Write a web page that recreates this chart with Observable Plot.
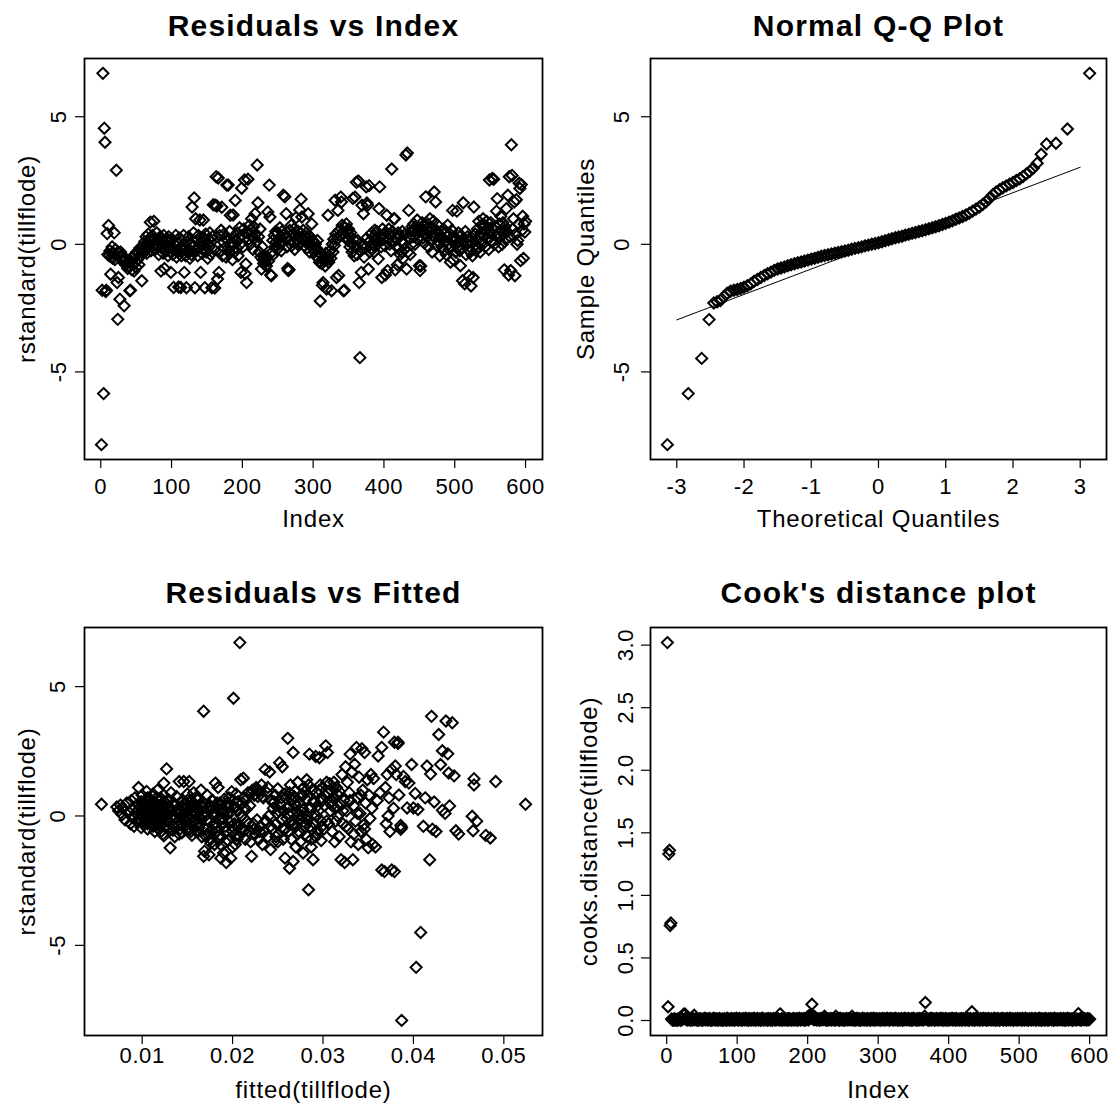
<!DOCTYPE html>
<html><head><meta charset="utf-8">
<script src="https://cdn.jsdelivr.net/npm/d3@7"></script>
<script src="https://cdn.jsdelivr.net/npm/@observablehq/plot@0.6"></script>
<style>
body{margin:0;background:#fff;}
#root{position:relative;width:1109px;height:1104px;background:#fff;overflow:hidden;}
.panel{position:absolute;}
</style></head><body><div id="root"></div>
<script>
// ---------- Panel 1: Residuals vs Index (index = position 1..600) ----------
const resid = [
-7.85,-1.8,6.7,-5.85,4.55,4.0,-1.85,-1.8,0.42,-0.4,0.74,-0.45,-0.25,-1.17,-0.5,-0.1,-0.55,-0.35,0.45,-0.6,
-0.2,2.9,-1.5,-2.94,-1.3,-0.35,-2.15,-0.3,-0.5,-0.6,-0.45,-0.7,-2.41,-0.55,-0.8,-0.6,-0.75,-0.95,-0.7,-0.9,
-1.82,-1.8,-0.65,-1.0,-0.5,-0.8,-1.05,-0.4,-0.7,-0.9,-0.3,-0.6,-0.35,-0.8,-0.15,-0.45,-0.25,-1.43,-0.1,-0.35,
-0.3,0.1,-0.15,0.3,-0.35,0.05,0.4,-0.1,0.2,0.87,-0.25,0.15,0.35,-0.05,0.9,0.2,-0.2,0.05,0.45,-0.1,
0.2,-0.4,0.05,0.3,-1.05,-0.15,0.15,-0.35,0.35,-0.95,-0.05,0.2,-0.25,0.1,-0.45,0.3,-0.1,0.15,-1.1,-0.3,
0.2,-0.4,-1.69,0.0,-0.2,0.35,-0.5,0.05,-0.3,-1.67,0.25,-0.15,-1.69,-0.45,0.15,-0.25,0.35,-1.1,-0.05,-0.45,
-1.7,0.1,-0.3,0.3,-0.2,-0.55,0.05,-0.4,1.46,-0.1,0.45,1.82,-1.7,1.0,-0.25,0.15,-0.45,0.35,-0.1,0.95,
-1.1,0.1,-0.35,0.25,0.95,-0.15,-1.7,0.4,-0.3,0.0,-0.55,0.2,-0.1,0.45,-0.4,0.1,-1.7,0.3,1.55,-0.2,
-1.71,1.53,2.65,1.5,-1.36,2.6,-1.1,0.35,-0.25,0.55,1.45,-0.45,0.1,0.4,-0.15,0.25,-0.5,2.32,0.15,2.32,
-0.3,0.5,1.14,-0.1,0.1,-0.6,1.15,0.3,-0.3,1.72,0.15,-0.15,0.45,-0.45,0.25,0.65,0.0,-1.1,2.2,0.35,
-0.1,0.6,2.52,-1.15,-0.77,-1.5,0.45,2.55,0.2,0.75,0.0,0.55,1.0,0.3,-0.2,0.7,0.25,1.2,0.4,0.1,
3.11,1.63,0.3,-0.3,0.6,-0.5,-0.97,-0.1,-0.6,-0.75,-0.45,-0.7,-0.6,-0.85,-0.5,1.27,-0.65,2.32,1.07,-1.2,
-1.23,-0.3,0.15,-0.4,0.35,-0.1,0.5,0.1,-0.2,0.45,0.2,0.0,0.65,0.3,-0.25,0.5,0.1,1.92,0.4,1.86,
0.25,1.2,-0.1,-0.95,-1.03,-1.0,0.55,0.15,0.75,-0.05,0.4,0.1,0.6,-0.2,0.35,1.05,0.2,0.0,0.5,0.3,
1.35,0.45,1.77,1.07,0.25,0.55,-0.05,0.35,0.1,0.45,-0.15,0.25,1.2,0.1,-0.3,0.3,-0.05,0.8,0.15,-0.15,
0.1,-0.3,0.0,-0.45,-0.15,0.15,-0.55,-0.3,-0.7,-2.22,-0.4,-0.75,-1.6,-1.5,-0.55,-0.65,-0.85,-0.35,-1.75,-0.6,
1.14,-0.7,-0.45,-0.25,-0.55,-1.82,0.0,-0.3,0.2,-0.05,1.73,0.4,-1.3,0.2,1.33,-1.22,0.55,0.35,1.85,1.66,
0.75,0.45,-1.82,-1.8,0.65,0.3,0.8,0.5,0.15,0.6,0.35,-0.1,0.45,0.05,-0.3,1.8,0.2,-0.45,1.85,-0.1,
2.43,-0.4,0.15,2.48,-1.5,-4.44,-0.25,-1.1,1.53,0.0,1.2,-0.5,-0.15,0.2,2.25,1.62,1.53,-0.97,2.3,-0.3,
0.15,-0.15,0.45,0.0,0.3,-0.3,0.55,0.2,-0.05,0.5,0.1,-0.57,1.4,2.25,0.35,-0.1,-1.3,0.6,0.2,0.4,
-0.05,-1.2,0.45,1.14,-1.03,0.2,0.6,0.0,0.4,-0.25,2.95,0.5,0.15,1.0,1.0,-1.0,0.25,-0.1,-0.8,0.45,
-0.15,0.3,-0.4,0.1,-0.3,0.5,-0.55,0.05,-0.2,0.4,3.5,-0.97,3.58,-0.3,1.33,0.25,-0.4,0.5,0.0,0.7,
0.3,0.8,0.55,0.0,0.7,0.4,0.95,0.2,0.65,-0.84,-1.03,-0.85,0.5,0.85,0.25,0.7,0.05,0.45,1.86,0.6,
0.3,0.8,-0.1,0.5,1.0,0.15,0.65,-0.3,0.35,0.9,2.05,0.25,1.66,0.55,-0.05,0.75,0.1,0.4,-0.45,0.3,
0.5,-0.1,0.25,0.6,-0.25,0.1,0.45,-0.4,0.3,0.75,0.0,-0.2,0.4,-0.7,0.2,0.55,1.33,-0.6,0.1,0.3,
-0.3,0.2,1.3,-0.1,0.45,0.1,-0.25,-0.84,0.35,-0.15,-1.43,1.63,0.15,-1.55,0.5,-0.4,0.05,0.3,-0.2,-1.23,
0.1,-0.3,-1.63,0.25,-0.45,-1.3,1.46,-0.05,0.4,-0.25,0.15,0.6,-0.1,0.9,0.3,-0.3,0.45,0.75,0.1,1.0,
0.35,0.75,-0.1,0.55,0.9,0.25,0.65,-0.2,2.52,0.45,0.85,0.15,2.58,0.6,2.55,0.0,0.7,0.35,1.3,1.79,
0.45,-0.1,0.8,0.3,1.1,0.55,0.0,0.85,0.4,-1.0,0.7,0.2,1.4,0.5,1.92,-1.2,2.65,0.3,-1.03,3.9,
2.7,0.6,1.0,1.66,-1.23,0.4,1.75,0.0,0.15,0.8,2.39,2.19,-0.64,2.34,0.55,1.1,-0.55,0.8,0.48,0.9
];

// ---------- Panel 2: Normal Q-Q ----------
const qqTheo = [-3.14,-2.83,-2.63,-2.52,
-2.45,-2.40,-2.35,-2.30,-2.25,-2.20,-2.15,-2.10,-2.05,-2.00,
-1.95,-1.90,-1.85,-1.80,-1.75,-1.70,-1.65,-1.60,-1.55,-1.50,
-1.45,-1.40,-1.35,-1.30,-1.25,-1.20,-1.15,-1.10,-1.05,-1.00,
-0.95,-0.90,-0.85,-0.80,-0.75,-0.70,-0.65,-0.60,-0.55,-0.50,
-0.45,-0.40,-0.35,-0.30,-0.25,-0.20,-0.15,-0.10,-0.05,0.00,
0.05,0.10,0.15,0.20,0.25,0.30,0.35,0.40,0.45,0.50,
0.55,0.60,0.65,0.70,0.75,0.80,0.85,0.90,0.95,1.00,
1.05,1.10,1.15,1.20,1.25,1.30,1.35,1.40,1.45,1.50,
1.55,1.60,1.65,1.70,1.75,1.80,1.85,1.90,1.95,2.00,
2.05,2.10,2.15,2.20,2.25,2.30,2.36,2.42,2.50,2.64,2.81,3.14];
const qqSample = [-7.85,-5.85,-4.47,-2.95,
-2.30,-2.25,-2.20,-2.05,-1.92,-1.84,-1.80,-1.77,-1.73,-1.68,
-1.62,-1.55,-1.45,-1.38,-1.30,-1.22,-1.15,-1.09,-1.02,-0.97,
-0.93,-0.89,-0.84,-0.80,-0.76,-0.72,-0.69,-0.65,-0.62,-0.58,
-0.55,-0.51,-0.47,-0.44,-0.41,-0.38,-0.35,-0.32,-0.29,-0.26,
-0.23,-0.19,-0.16,-0.13,-0.10,-0.06,-0.03,0.00,0.03,0.06,
0.10,0.14,0.18,0.22,0.26,0.29,0.32,0.36,0.39,0.43,
0.46,0.50,0.53,0.57,0.61,0.65,0.69,0.73,0.78,0.82,
0.87,0.92,0.98,1.03,1.09,1.15,1.22,1.30,1.38,1.46,
1.56,1.67,1.80,1.94,2.05,2.14,2.22,2.29,2.36,2.42,
2.50,2.57,2.66,2.76,2.86,2.98,3.18,3.53,3.93,3.96,4.52,6.70];
const qqLineTheo = [-3.0, 3.0];
const qqLineSample = [-2.96, 3.02];

// ---------- Panel 3: Residuals vs Fitted ----------
const fitted3 = [
0.0055,0.0072,0.0074,0.0076,0.0078,0.0079,0.0081,0.0083,0.0085,0.0087,
0.0088,0.0089,0.0090,0.0091,0.0092,0.0093,0.0094,0.0095,0.0096,0.0097,
0.0098,0.0099,0.0100,0.0101,0.0102,0.0103,0.0104,0.0105,0.0106,0.0107,
0.0108,0.0109,0.0110,0.0111,0.0112,0.0113,0.0114,0.0115,0.0116,0.0117,
0.0118,0.0119,0.0120,0.0121,0.0122,0.0123,0.0124,0.0125,0.0126,0.0127,
0.0128,0.0129,0.0130,0.0131,0.0132,0.0133,0.0134,0.0135,0.0136,0.0137,
0.0101,0.0104,0.0107,0.0110,0.0113,0.0116,0.0119,0.0122,0.0125,0.0128,
0.0100,0.0103,0.0106,0.0109,0.0112,0.0115,0.0118,0.0121,0.0124,0.0127,
0.0138,0.0139,0.0140,0.0141,0.0142,0.0143,0.0144,0.0145,0.0146,0.0147,
0.0148,0.0149,0.0150,0.0151,0.0152,0.0153,0.0154,0.0155,0.0156,0.0157,
0.0158,0.0159,0.0160,0.0161,0.0162,0.0163,0.0164,0.0165,0.0166,0.0167,
0.0140,0.0143,0.0146,0.0149,0.0152,0.0155,0.0158,0.0161,0.0164,0.0167,
0.0168,0.0168,0.0169,0.0170,0.0171,0.0172,0.0173,0.0174,0.0175,0.0176,
0.0177,0.0178,0.0179,0.0180,0.0181,0.0182,0.0183,0.0184,0.0185,0.0186,
0.0187,0.0188,0.0189,0.0190,0.0191,0.0192,0.0193,0.0194,0.0195,0.0196,
0.0197,0.0198,0.0199,0.0200,0.0201,0.0202,0.0203,0.0204,0.0205,0.0206,
0.0207,0.0208,0.0209,0.0210,0.0211,0.0212,0.0213,0.0214,0.0215,0.0216,
0.0170,0.0174,0.0178,0.0182,0.0186,0.0190,0.0194,0.0198,0.0202,0.0206,
0.0217,0.0218,0.0219,0.0220,0.0221,0.0222,0.0223,0.0224,0.0225,0.0226,
0.0227,0.0228,0.0229,0.0230,0.0231,0.0232,0.0233,0.0234,0.0235,0.0236,
0.0237,0.0238,0.0239,0.0240,0.0241,0.0242,0.0243,0.0244,0.0245,0.0246,
0.0247,0.0248,0.0249,0.0250,0.0251,0.0252,0.0253,0.0254,0.0255,0.0256,
0.0257,0.0258,0.0259,0.0260,0.0261,0.0262,0.0263,0.0264,0.0265,0.0266,
0.0267,0.0267,0.0268,0.0269,0.0270,0.0271,0.0272,0.0273,0.0274,0.0275,
0.0276,0.0277,0.0278,0.0279,0.0280,0.0281,0.0282,0.0283,0.0284,0.0285,
0.0286,0.0287,0.0288,0.0289,0.0290,0.0291,0.0292,0.0293,0.0294,0.0295,
0.0296,0.0297,0.0298,0.0299,0.0300,0.0301,0.0302,0.0303,0.0304,0.0305,
0.0262,0.0266,0.0270,0.0274,0.0278,0.0282,0.0286,0.0290,0.0294,0.0298,
0.0306,0.0307,0.0308,0.0309,0.0310,0.0311,0.0312,0.0313,0.0314,0.0315,
0.0316,0.0317,0.0318,0.0319,0.0320,0.0321,0.0322,0.0323,0.0324,0.0325,
0.0326,0.0327,0.0328,0.0329,0.0330,0.0331,0.0332,0.0333,0.0334,0.0335,
0.0336,0.0337,0.0338,0.0339,0.0340,0.0341,0.0342,0.0343,0.0344,0.0345,
0.0346,0.0347,0.0348,0.0349,0.0350,0.0351,0.0352,0.0353,0.0354,0.0355,
0.0310,0.0314,0.0318,0.0322,0.0326,0.0330,0.0334,0.0338,0.0342,0.0346,
0.0356,0.0358,0.0360,0.0361,0.0363,0.0365,0.0365,0.0367,0.0368,0.0369,
0.0370,0.0371,0.0372,0.0373,0.0374,0.0376,0.0376,0.0378,0.0379,0.0379,
0.0380,0.0381,0.0383,0.0383,0.0384,0.0386,0.0386,0.0387,0.0387,0.0389,
0.0391,0.0393,0.0395,0.0398,0.0400,0.0402,0.0403,0.0405,0.0408,0.0411,
0.0413,0.0415,0.0418,0.0419,0.0420,0.0421,0.0423,0.0425,0.0428,0.0430,
0.0432,0.0432,0.0435,0.0436,0.0438,0.0439,0.0440,0.0443,0.0445,0.0447,
0.0450,0.0465,0.0466,0.0467,0.0467,0.0470,0.0480,0.0485,0.0491,0.0524,
0.0096,0.0099,0.0102,0.0105,0.0108,0.0111,0.0114,0.0117,0.0120,0.0123,
0.0126,0.0129,0.0132,0.0135,0.0097,0.0100,0.0103,0.0106,0.0109,0.0112,
0.0115,0.0118,0.0121,0.0124,0.0127,0.0130,0.0133,0.0136,0.0102,0.0108,
0.0114,0.0120,0.0126,0.0132,0.0105,0.0111,0.0117,0.0123,0.0129,0.0135,
0.0139,0.0142,0.0145,0.0148,0.0151,0.0154,0.0157,0.0160,0.0163,0.0166,
0.0169,0.0172,0.0175,0.0178,0.0181,0.0184,0.0187,0.0190,0.0193,0.0196,
0.0199,0.0202,0.0205,0.0208,0.0211,0.0141,0.0147,0.0153,0.0159,0.0165,
0.0171,0.0177,0.0183,0.0189,0.0195,0.0201,0.0207,0.0213,0.0144,0.0156,
0.0168,0.0180,0.0192,0.0204,0.0176,0.0188,0.0200,0.0212,0.0150,0.0162,
0.0214,0.0218,0.0221,0.0224,0.0227,0.0230,0.0233,0.0236,0.0239,0.0242,
0.0245,0.0248,0.0251,0.0254,0.0257,0.0260,0.0263,0.0266,0.0269,0.0272,
0.0275,0.0278,0.0281,0.0284,0.0287,0.0290,0.0293,0.0296,0.0299,0.0302,
0.0305,0.0308,0.0311,0.0250,0.0256,0.0262,0.0268,0.0274,0.0280,0.0286,
0.0292,0.0298,0.0304,0.0310,0.0246,0.0258,0.0270,0.0282,0.0294,0.0306
];
const resid3 = [
0.45,0.35,0.2,0.42,0.05,0.3,-0.15,0.5,0.15,-0.3,
0.6,-0.05,0.25,-0.4,0.7,0.1,-0.2,0.45,1.1,-0.1,
0.35,-0.45,0.8,0.0,0.55,-0.25,0.2,0.95,-0.5,0.4,
-0.1,0.65,0.1,-0.35,0.85,0.3,-0.6,0.5,0.05,1.0,
-0.3,0.25,0.7,-0.15,0.45,-0.7,1.27,0.15,-0.45,1.82,
0.6,-0.2,0.35,-1.23,0.9,0.0,-0.55,0.5,-0.8,0.2,
0.15,0.6,0.3,0.45,-0.05,0.7,0.05,0.3,0.55,0.1,
-0.2,0.1,-0.3,0.0,-0.4,0.25,-0.5,0.0,-0.77,-0.35,
0.75,-0.4,0.1,1.33,-0.25,0.55,-0.65,0.3,1.33,-0.1,
0.45,-0.5,0.85,0.0,1.33,-0.3,0.6,-0.75,0.2,0.9,
-0.2,0.4,-0.6,0.1,0.7,-0.35,0.25,1.0,-0.8,0.5,
0.2,0.35,0.05,0.3,-0.15,0.45,0.15,-0.3,-0.1,0.3,
4.05,-1.56,-1.36,0.15,-0.5,0.8,-0.2,-1.5,0.4,-0.9,
0.6,-0.35,0.0,-1.1,1.27,0.3,-0.6,1.1,-0.15,0.5,
-1.63,-0.8,0.2,-1.43,0.65,-0.4,-1.8,0.1,-0.95,0.45,
-0.25,-1.63,0.94,-0.6,4.55,0.3,-1.1,0.85,-0.35,0.55,
-0.75,6.7,1.4,0.0,-0.5,1.46,0.7,-0.9,0.25,-0.2,
0.0,0.35,0.1,-0.45,0.25,-0.1,0.5,0.15,-0.3,0.2,
0.9,-0.6,0.4,-1.0,-1.56,1.0,-0.3,0.8,-0.7,1.1,
-0.15,0.75,-0.9,0.95,-0.4,1.2,-1.1,0.7,-0.6,1.8,
-0.2,0.9,-0.8,0.0,1.7,-1.3,0.6,-0.5,0.3,-1.0,
0.8,-0.3,0.1,1.05,-0.7,2.06,0.45,-0.15,1.9,0.2,
-0.55,-1.63,0.7,-0.1,3.0,0.35,-2.02,1.2,-0.9,0.6,
2.45,-1.76,-0.3,0.95,-1.2,0.15,1.3,-0.6,0.5,-1.0,
0.8,0.0,-1.43,1.1,-0.4,0.65,1.4,-0.8,-2.85,2.39,
0.3,-1.2,1.0,-1.69,0.5,-0.3,2.3,0.9,-0.7,0.2,
2.25,1.2,-0.95,0.6,1.1,-0.5,0.8,2.71,1.3,2.45,
0.1,-0.35,0.4,0.05,0.25,-0.15,-0.4,0.1,0.4,-0.2,
0.9,1.25,0.5,1.0,-0.6,0.7,1.3,-1.0,0.3,1.1,
0.0,0.8,-0.8,0.45,-1.69,1.6,-0.3,0.6,-1.8,1.9,
0.2,1.3,-0.5,0.9,2.39,-1.0,1.7,-1.69,0.4,2.0,
-0.2,2.65,0.7,-1.1,1.5,0.1,-0.6,2.6,1.0,-0.35,
2.45,0.5,-0.9,1.4,-1.23,0.8,-0.1,1.6,0.3,-1.1,
0.4,-0.2,0.95,0.2,-0.4,0.6,-0.7,0.1,0.8,-0.5,
1.45,-1.2,0.6,2.32,0.9,2.65,-2.09,3.24,-2.15,1.1,
-0.3,1.6,0.0,0.7,-0.6,-2.09,1.8,0.3,2.85,-2.15,
1.93,1.6,2.85,2.8,0.81,-0.37,-0.51,-7.9,-0.45,1.53,
1.33,0.31,1.27,1.99,0.31,0.87,-5.85,0.25,-4.5,-0.4,
0.7,1.93,-1.69,1.62,3.85,-0.51,0.54,-0.6,3.15,1.99,
2.52,0.22,0.1,3.67,2.4,1.66,0.39,3.6,1.55,-0.57,
-0.7,-0.01,-0.57,1.44,1.2,-0.2,-0.75,-0.85,1.33,0.45,
0.25,0.55,-0.35,0.15,0.45,-0.2,0.3,-0.45,0.6,-0.1,
0.4,-0.5,0.2,0.05,0.1,0.5,-0.15,0.7,0.2,0.55,
-0.25,0.4,-0.6,0.8,-0.2,0.6,-0.35,0.4,0.35,-0.2,
0.15,0.35,0.0,0.15,0.0,0.2,-0.05,0.1,0.25,-0.4,
0.1,-0.5,0.6,-0.2,0.35,-0.6,0.5,0.3,-0.45,0.05,
0.45,-0.7,0.2,0.6,-0.3,-0.8,0.4,0.1,-0.6,0.7,
-0.4,0.35,-0.9,0.1,0.5,-0.7,0.25,-0.5,0.7,-0.1,
-0.8,-0.55,0.5,-0.25,0.3,0.6,-0.4,0.3,-0.3,0.0,
0.35,0.15,-1.0,-0.75,-1.05,-1.15,-1.2,-0.6,0.6,-0.6,
0.6,-0.3,0.9,-0.5,1.0,-0.6,0.75,-0.2,1.1,-0.4,
0.5,-0.8,0.2,0.7,-0.5,0.3,0.9,-0.2,0.5,-0.7,
0.2,0.8,-0.3,1.2,-0.9,0.6,0.0,1.0,-0.4,0.4,
0.9,0.2,1.1,-1.0,-0.9,-0.6,0.75,-0.1,0.95,0.3,
-0.8,0.7,-0.2,0.55,0.55,0.85,-0.4,0.0,-0.55,-0.3
];

// ---------- Panel 4: Cook's distance (index = position 1..600) ----------
const cooks = [
3.02,.11,1.33,1.36,.76,.78,.012,.004,.008,.002,.015,.006,.003,.009,.001,.011,.005,.018,.007,.002,
.006,.014,.009,.05,.045,.052,.02,.005,.011,.003,.016,.007,.013,.002,.009,.019,.004,.012,.042,.008,
.01,.003,.017,.006,.001,.012,.008,.015,.004,.01,.002,.013,.007,.018,.005,.009,.014,.003,.011,.006,
.016,.004,.009,.001,.012,.007,.019,.005,.01,.003,.014,.008,.002,.011,.017,.006,.009,.004,.013,.001,
.008,.015,.005,.011,.002,.018,.007,.01,.004,.013,.006,.016,.003,.009,.012,.001,.014,.007,.019,.005,
.011,.003,.017,.008,.006,.013,.002,.01,.015,.005,.009,.018,.004,.012,.007,.001,.016,.006,.011,.003,
.014,.008,.005,.019,.01,.002,.013,.007,.016,.004,.009,.012,.001,.015,.006,.018,.003,.011,.008,.005,
.013,.009,.002,.017,.006,.011,.004,.014,.008,.001,.012,.016,.005,.01,.003,.019,.007,.013,.009,.004,
.053,.006,.015,.002,.011,.008,.018,.004,.012,.007,.014,.001,.01,.016,.005,.009,.003,.013,.006,.017,
.004,.011,.008,.015,.002,.012,.006,.019,.009,.003,.014,.007,.01,.005,.016,.001,.013,.008,.011,.03,
.004,.038,.015,.045,.02,.13,.04,.012,.006,.03,.009,.017,.003,.011,.007,.014,.002,.01,.016,.005,
.012,.008,.019,.034,.006,.013,.001,.009,.015,.004,.011,.007,.017,.003,.012,.006,.014,.01,.002,.034,
.009,.016,.005,.012,.001,.018,.007,.011,.004,.014,.008,.002,.013,.006,.017,.01,.003,.015,.009,.005,
.012,.007,.034,.004,.016,.009,.002,.013,.006,.018,.011,.003,.015,.008,.001,.012,.005,.019,.01,.004,
.014,.007,.011,.002,.017,.009,.005,.013,.001,.016,.008,.012,.004,.018,.006,.01,.003,.015,.009,.011,
.006,.014,.002,.012,.008,.017,.004,.01,.015,.003,.013,.007,.019,.005,.011,.001,.016,.009,.012,.006,
.014,.003,.01,.018,.005,.012,.008,.001,.015,.007,.011,.004,.017,.009,.002,.013,.006,.019,.01,.005,
.012,.008,.016,.003,.011,.006,.014,.001,.009,.018,.005,.013,.007,.01,.002,.015,.011,.004,.017,.008,
.012,.006,.014,.003,.01,.034,.144,.009,.016,.005,.011,.001,.013,.007,.018,.004,.012,.009,.015,.002,
.011,.006,.017,.008,.003,.013,.01,.005,.019,.007,.012,.001,.014,.009,.004,.016,.006,.011,.002,.013,
.008,.015,.005,.01,.018,.003,.012,.007,.014,.001,.016,.009,.006,.011,.004,.013,.008,.017,.002,.01,
.015,.006,.012,.003,.018,.009,.005,.013,.001,.011,.016,.007,.07,.004,.014,.01,.002,.017,.008,.012,
.005,.013,.009,.001,.016,.007,.011,.004,.019,.006,.012,.008,.014,.002,.01,.017,.005,.013,.009,.003,
.015,.007,.011,.004,.018,.01,.002,.013,.006,.016,.009,.001,.012,.008,.014,.005,.017,.003,.011,.007,
.013,.002,.016,.009,.005,.012,.018,.004,.01,.007,.015,.001,.011,.006,.014,.009,.003,.017,.008,.012,
.005,.014,.01,.002,.016,.007,.012,.004,.019,.009,.006,.013,.001,.011,.015,.008,.003,.017,.01,.005,
.013,.007,.016,.002,.011,.009,.014,.004,.018,.006,.012,.001,.015,.008,.01,.003,.017,.005,.013,.009,
.002,.014,.007,.011,.016,.004,.012,.009,.001,.018,.006,.013,.01,.003,.015,.008,.011,.005,.017,.007,
.012,.004,.016,.009,.002,.014,.006,.011,.018,.003,.013,.008,.01,.005,.015,.001,.012,.007,.017,.009,
.004,.013,.008,.055,.011,.006,.016,.002,.012,.009,.018,.005,.014,.007,.01,.003,.015,.011,.006,.012
];

// ---------- Tick labels ----------
const indexTicks = [0, 100, 200, 300, 400, 500, 600];
const residTicks = [-5, 0, 5];
const qqTicks = [-3, -2, -1, 0, 1, 2, 3];
const fittedTicks = [0.01, 0.02, 0.03, 0.04, 0.05];
const cooksTicks = [0, 0.5, 1, 1.5, 2, 2.5, 3];

const titles = ["Residuals vs Index", "Normal Q-Q Plot", "Residuals vs Fitted", "Cook's distance plot"];

// ---------- Layout helpers ----------
const FONT = "'Liberation Sans', Arial, Helvetica, sans-serif";
const root = document.getElementById("root");
function rdom(vals) { const [a, b] = d3.extent(vals); const e = (b - a) * 0.04; return [a - e, b + e]; }
const fmtInt = d => String(d);
const fmt1 = d => d.toFixed(1);
const fmt2 = d => d.toFixed(2);
const C = {textAnchor: "middle", lineAnchor: "middle"};

function panel(o) {
  const [bx0, bx1, by0, by1] = o.box;
  const svg = Plot.plot({
    width: o.width, height: o.height,
    marginLeft: bx0 - o.left, marginRight: o.left + o.width - bx1,
    marginTop: by0 - o.top, marginBottom: o.top + o.height - by1,
    x: {domain: o.xDomain}, y: {domain: o.yDomain},
    style: {fontFamily: FONT, color: "black", background: "transparent", overflow: "visible"},
    marks: [
      ...o.marks,
      Plot.frame({stroke: "black", strokeWidth: 1.8}),
      Plot.axisX({ticks: o.xTicks, tickSize: 9, tickFormat: () => "", label: null, strokeWidth: 1.2}),
      Plot.axisY({ticks: o.yTicks, tickSize: 9, tickFormat: () => "", label: null, strokeWidth: 1.2}),
      Plot.text(o.xTicks, {x: d => d, frameAnchor: "bottom", dy: o.tickDy, text: o.xFmt, fontSize: 22, ...C}),
      Plot.text(o.yTicks, {y: d => d, frameAnchor: "left", dx: o.yTickDx, rotate: -90, text: o.yFmt, fontSize: 22, ...C}),
      Plot.text([o.title], {frameAnchor: "top", dy: o.titleDy, text: d => d, fontSize: 30, fontWeight: "bold", ...C}),
      Plot.text([o.xLabel], {frameAnchor: "bottom", dy: o.xTitleDy, text: d => d, fontSize: 24, ...C}),
      Plot.text([o.yLabel], {frameAnchor: "left", dx: o.yTitleDx, rotate: -90, text: d => d, fontSize: 24, ...C})
    ]
  });
  // letter spacing to match the wide bitmap-style lettering of the original
  const tickSet = new Set([...o.xTicks.map(o.xFmt), ...o.yTicks.map(o.yFmt)]);
  svg.querySelectorAll("text").forEach(t => {
    const s = t.textContent;
    if (s === o.title) t.style.letterSpacing = "1.2px";
    else if (s === o.xLabel || s === o.yLabel) t.style.letterSpacing = "0.8px";
    else if (tickSet.has(s)) t.style.letterSpacing = "0.6px";
  });
  const div = document.createElement("div");
  div.className = "panel";
  div.style.left = o.left + "px";
  div.style.top = o.top + "px";
  div.appendChild(svg);
  root.appendChild(div);
}

const dotOpts = {symbol: "diamond2", r: 5.0, stroke: "black", fill: "none", strokeWidth: 2.0};

const p1 = resid.map((v, i) => ({idx: i + 1, v}));
const pqq = qqTheo.map((t, i) => ({t, s: qqSample[i]}));
const pqqLine = qqLineTheo.map((t, i) => ({t, s: qqLineSample[i]}));
const p3 = fitted3.map((f, i) => ({f, r: resid3[i]})).filter(d => d.r !== undefined);
const p4 = cooks.map((c, i) => ({idx: i + 1, c}));

const ROW1 = [58, 459], ROW2 = [627, 1035];
const COL1 = [84, 542], COL2 = [650, 1106];
const row1Text = {tickDy: 27, xTitleDy: 60, titleDy: -32};
const row2Text = {tickDy: 20, xTitleDy: 55, titleDy: -34};

panel({left: 0, top: 0, width: 555, height: 560, box: [...COL1, ...ROW1], ...row1Text, yTickDx: -26, yTitleDx: -57,
  xDomain: rdom([1, resid.length]), yDomain: rdom(resid),
  xTicks: indexTicks, xFmt: fmtInt, yTicks: residTicks, yFmt: fmtInt,
  title: titles[0], xLabel: "Index", yLabel: "rstandard(tillflode)",
  marks: [Plot.dot(p1, {x: "idx", y: "v", ...dotOpts})]});

panel({left: 555, top: 0, width: 554, height: 560, box: [...COL2, ...ROW1], ...row1Text, yTickDx: -29, yTitleDx: -64,
  xDomain: rdom(qqTheo), yDomain: rdom(qqSample),
  xTicks: qqTicks, xFmt: fmtInt, yTicks: residTicks, yFmt: fmtInt,
  title: titles[1], xLabel: "Theoretical Quantiles", yLabel: "Sample Quantiles",
  marks: [Plot.dot(pqq, {x: "t", y: "s", ...dotOpts}),
          Plot.line(pqqLine, {x: "t", y: "s", stroke: "black", strokeWidth: 1})]});

panel({left: 0, top: 560, width: 555, height: 544, box: [...COL1, ...ROW2], ...row2Text, yTickDx: -27, yTitleDx: -57,
  xDomain: rdom(fitted3), yDomain: rdom(resid3),
  xTicks: fittedTicks, xFmt: fmt2, yTicks: residTicks, yFmt: fmtInt,
  title: titles[2], xLabel: "fitted(tillflode)", yLabel: "rstandard(tillflode)",
  marks: [Plot.dot(p3, {x: "f", y: "r", ...dotOpts})]});

panel({left: 555, top: 560, width: 554, height: 544, box: [...COL2, ...ROW2], ...row2Text, yTickDx: -25, yTitleDx: -61,
  xDomain: rdom([1, cooks.length]), yDomain: rdom(cooks),
  xTicks: indexTicks, xFmt: fmtInt, yTicks: cooksTicks, yFmt: fmt1,
  title: titles[3], xLabel: "Index", yLabel: "cooks.distance(tillflode)",
  marks: [Plot.dot(p4, {x: "idx", y: "c", ...dotOpts})]});
</script></body></html>
